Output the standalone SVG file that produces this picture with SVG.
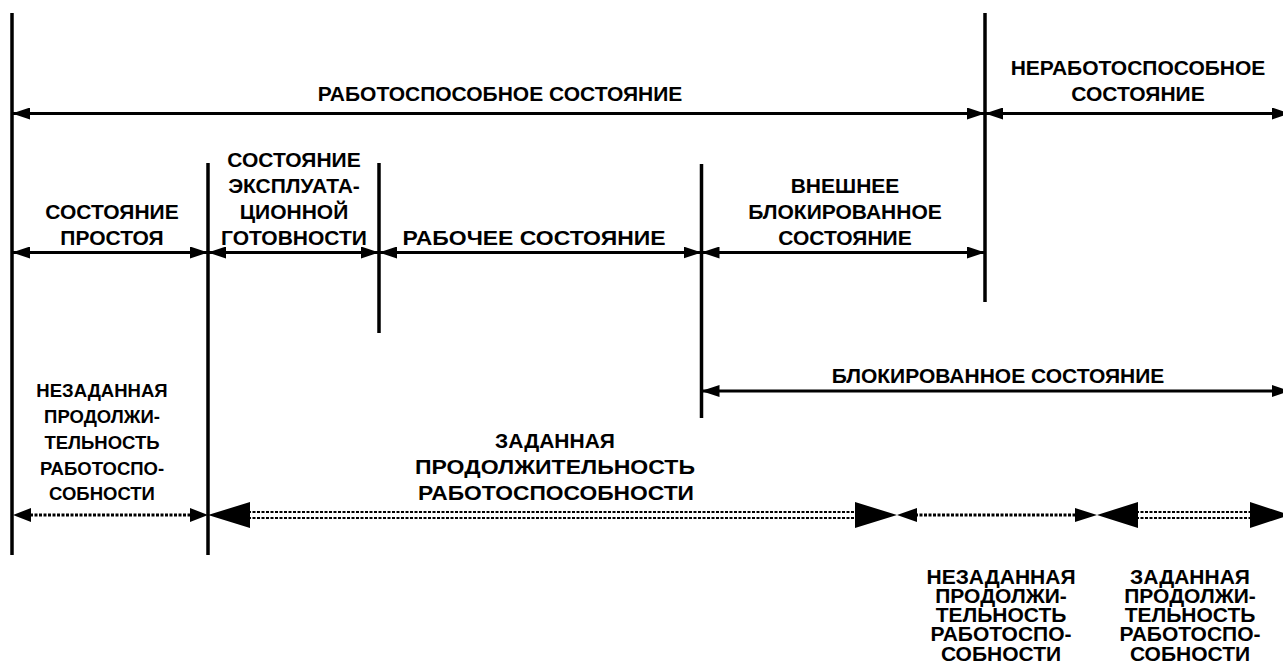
<svg xmlns="http://www.w3.org/2000/svg" width="1283" height="668" viewBox="0 0 1283 668">
<style>
text{font-family:"Liberation Sans",Arial,sans-serif;font-size:21px;font-weight:bold;fill:#000;text-anchor:middle}
.sm text{font-size:18.5px}
.v{stroke:#000;stroke-width:3.5;fill:none}
.h{stroke:#000;stroke-width:3;fill:none}
.d{stroke:#000;stroke-width:3;stroke-dasharray:3 1.5;fill:none}
.dd{stroke:#000;stroke-width:2.2;stroke-dasharray:3 1.5;fill:none}
</style>
<defs>
<marker id="a" viewBox="0 0 18 12" refX="18" refY="6" markerWidth="18" markerHeight="12" markerUnits="userSpaceOnUse" orient="auto-start-reverse"><path d="M0,0L18,6L0,12z" fill="#000"/></marker>
</defs>
<rect width="1283" height="668" fill="#fff"/>
<g id="connectors">
<line class="v" x1="12" y1="13" x2="12" y2="555"/>
<line class="v" x1="985" y1="13" x2="985" y2="302"/>
<line class="v" x1="208" y1="163" x2="208" y2="555"/>
<line class="v" x1="379" y1="163" x2="379" y2="333"/>
<line class="v" x1="701.5" y1="164" x2="701.5" y2="418"/>
<line class="h" x1="12" y1="113.5" x2="985" y2="113.5" marker-start="url(#a)" marker-end="url(#a)"/>
<line class="h" x1="985" y1="113.5" x2="1290" y2="113.5" marker-start="url(#a)" marker-end="url(#a)"/>
<line class="h" x1="12" y1="252.5" x2="208" y2="252.5" marker-start="url(#a)" marker-end="url(#a)"/>
<line class="h" x1="208" y1="252.5" x2="379" y2="252.5" marker-start="url(#a)" marker-end="url(#a)"/>
<line class="h" x1="379" y1="252.5" x2="701.5" y2="252.5" marker-start="url(#a)" marker-end="url(#a)"/>
<line class="h" x1="701.5" y1="252.5" x2="985" y2="252.5" marker-start="url(#a)" marker-end="url(#a)"/>
<line class="h" x1="701.5" y1="391" x2="1290" y2="391" marker-start="url(#a)" marker-end="url(#a)"/>
<line class="d" x1="30" y1="515" x2="190" y2="515"/>
<path d="M13,515L31,508L31,522z M208,515L190,508L190,522z" fill="#000"/>
<line class="dd" x1="248" y1="512" x2="857" y2="512"/>
<line class="dd" x1="248" y1="518" x2="857" y2="518"/>
<path d="M208,515L250,502L250,528z M897,515L855,502L855,528z" fill="#000"/>
<line class="d" x1="915" y1="515" x2="1079" y2="515"/>
<path d="M897,515L917,508L917,522z M1097,515L1075,508L1075,522z" fill="#000"/>
<line class="dd" x1="1136" y1="512" x2="1252" y2="512"/>
<line class="dd" x1="1136" y1="518" x2="1252" y2="518"/>
<path d="M1097,515L1138,502L1138,528z M1290,515L1250,502L1250,528z" fill="#000"/>
</g>
<g id="n1"><text x="500" y="101">РАБОТОСПОСОБНОЕ СОСТОЯНИЕ</text></g>
<g id="n2"><text x="1138" y="75">НЕРАБОТОСПОСОБНОЕ</text><text x="1138" y="101">СОСТОЯНИЕ</text></g>
<g id="n3"><text x="112" y="219">СОСТОЯНИЕ</text><text x="112" y="245">ПРОСТОЯ</text></g>
<g id="n4"><text x="294" y="167">СОСТОЯНИЕ</text><text x="294" y="193">ЭКСПЛУАТА-</text><text x="294" y="219">ЦИОННОЙ</text><text x="294" y="245">ГОТОВНОСТИ</text></g>
<g id="n5"><text x="534" y="245" textLength="263" lengthAdjust="spacingAndGlyphs">РАБОЧЕЕ СОСТОЯНИЕ</text></g>
<g id="n6"><text x="845" y="193">ВНЕШНЕЕ</text><text x="845" y="219">БЛОКИРОВАННОЕ</text><text x="845" y="245">СОСТОЯНИЕ</text></g>
<g id="n7"><text x="998" y="383">БЛОКИРОВАННОЕ СОСТОЯНИЕ</text></g>
<g id="n8" class="sm"><text x="102" y="397">НЕЗАДАННАЯ</text><text x="102" y="423">ПРОДОЛЖИ-</text><text x="102" y="449">ТЕЛЬНОСТЬ</text><text x="102" y="475">РАБОТОСПО-</text><text x="102" y="500">СОБНОСТИ</text></g>
<g id="n9"><text x="555" y="448">ЗАДАННАЯ</text><text x="555" y="474" textLength="280" lengthAdjust="spacingAndGlyphs">ПРОДОЛЖИТЕЛЬНОСТЬ</text><text x="556" y="500" textLength="276" lengthAdjust="spacingAndGlyphs">РАБОТОСПОСОБНОСТИ</text></g>
<g id="n10"><text x="1001" y="584">НЕЗАДАННАЯ</text><text x="1001" y="603">ПРОДОЛЖИ-</text><text x="1001" y="622">ТЕЛЬНОСТЬ</text><text x="1001" y="641">РАБОТОСПО-</text><text x="1001" y="661">СОБНОСТИ</text></g>
<g id="n11"><text x="1190" y="584">ЗАДАННАЯ</text><text x="1190" y="603">ПРОДОЛЖИ-</text><text x="1190" y="622">ТЕЛЬНОСТЬ</text><text x="1190" y="641">РАБОТОСПО-</text><text x="1190" y="661">СОБНОСТИ</text></g>
</svg>
